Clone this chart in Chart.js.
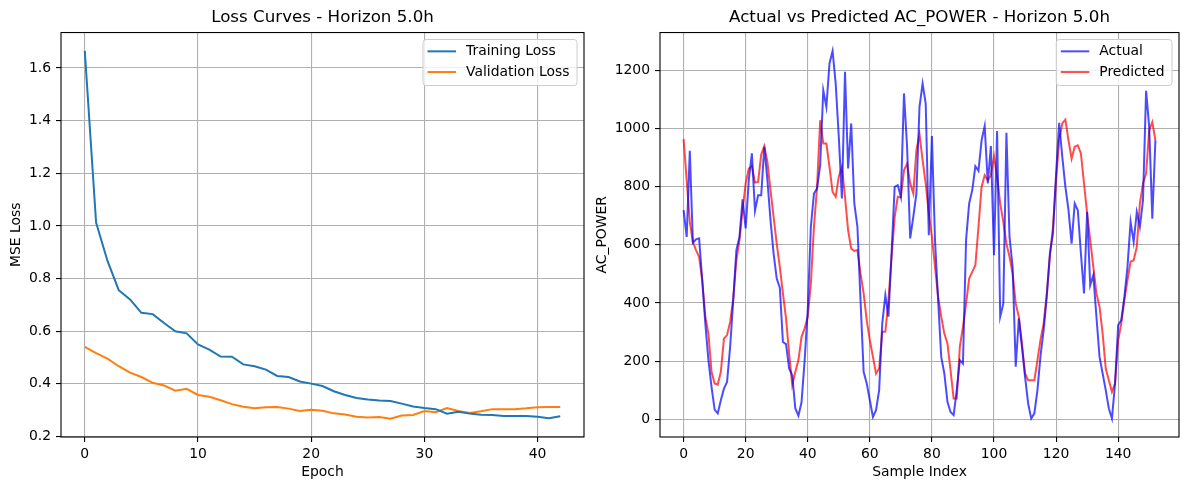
<!DOCTYPE html>
<html>
<head>
<meta charset="utf-8">
<title>Loss curves and AC_POWER prediction</title>
<script src="https://cdn.jsdelivr.net/npm/chart.js@4.4.1/dist/chart.umd.min.js"></script>
<style>
    body { margin: 0; background: #fff; }
    #wrap { position: relative; width: 1189px; height: 490px; }
    canvas { position: absolute; top: 0; }
</style>
</head>
<body>
<div id="wrap">
    <canvas id="loss-chart" width="592" height="490" style="left:0px"></canvas>
    <canvas id="power-chart" width="597" height="490" style="left:592px"></canvas>
</div>
<script>
// Loss per epoch
const trainLoss = [1.665, 1.013, 0.868, 0.756, 0.721, 0.670, 0.665, 0.631, 0.600, 0.592,
    0.550, 0.530, 0.504, 0.503, 0.474, 0.467, 0.454, 0.430, 0.426, 0.409,
    0.401, 0.392, 0.372, 0.358, 0.346, 0.341, 0.337, 0.335, 0.325, 0.314,
    0.308, 0.304, 0.287, 0.294, 0.287, 0.283, 0.282, 0.278, 0.278, 0.278,
    0.275, 0.269, 0.277];
const valLoss = [0.541, 0.517, 0.496, 0.467, 0.443, 0.426, 0.404, 0.394, 0.374, 0.381,
    0.358, 0.351, 0.338, 0.323, 0.313, 0.307, 0.311, 0.312, 0.306, 0.297,
    0.302, 0.298, 0.288, 0.284, 0.275, 0.272, 0.274, 0.268, 0.280, 0.282,
    0.297, 0.292, 0.308, 0.297, 0.289, 0.296, 0.304, 0.304, 0.304, 0.307,
    0.311, 0.312, 0.312];

// AC_POWER per sample index
const actualPower = [719, 627, 923, 607, 619, 622, 479, 330, 204, 112,
    34, 21, 66, 106, 129, 250, 410, 582, 627, 756,
    656, 822, 914, 717, 770, 770, 937, 822, 685, 570,
    484, 453, 266, 259, 175, 152, 38, 13, 60, 204,
    376, 662, 776, 793, 874, 1131, 1074, 1223, 1266, 1154,
    971, 759, 1194, 862, 1017, 742, 662, 410, 164, 124,
    66, 9, 32, 101, 330, 427, 353, 570, 799, 805,
    765, 1120, 937, 622, 696, 776, 1074, 1154, 1085, 633,
    974, 616, 410, 215, 158, 61, 26, 15, 101, 204,
    192, 616, 742, 788, 870, 854, 959, 1008, 811, 939,
    564, 991, 353, 398, 985, 627, 524, 181, 347, 250,
    147, 55, 3, 21, 101, 220, 307, 421, 570, 639,
    845, 1019, 902, 799, 719, 604, 742, 719, 570, 433,
    713, 461, 496, 353, 215, 158, 101, 38, 3, 124,
    324, 341, 421, 524, 679, 610, 713, 662, 753, 1129,
    1005, 690, 959];
const predictedPower = [963, 822, 679, 610, 582, 559, 479, 353, 295, 164,
    124, 120, 164, 278, 290, 335, 416, 547, 616, 719,
    811, 862, 870, 814, 816, 910, 939, 885, 788, 696,
    604, 524, 433, 347, 227, 118, 164, 204, 284, 313,
    353, 467, 662, 799, 1028, 948, 948, 868, 782, 765,
    834, 868, 765, 650, 587, 579, 582, 501, 433, 341,
    272, 215, 158, 175, 301, 301, 410, 559, 696, 765,
    763, 856, 879, 811, 776, 925, 980, 890, 811, 708,
    627, 524, 421, 353, 295, 261, 169, 72, 72, 250,
    318, 398, 484, 507, 530, 662, 799, 839, 822, 839,
    904, 834, 742, 679, 604, 559, 501, 398, 353, 261,
    158, 135, 135, 135, 204, 275, 330, 433, 559, 662,
    822, 959, 1017, 1030, 959, 896, 937, 942, 914, 811,
    708, 616, 524, 433, 387, 295, 175, 135, 95, 124,
    272, 330, 410, 479, 542, 547, 593, 742, 811, 845,
    994, 1022, 959];

// Tick labels
const epochTicks = [0, 10, 20, 30, 40];
const lossTicks = [0.2, 0.4, 0.6, 0.8, 1.0, 1.2, 1.4, 1.6];
const sampleTicks = [0, 20, 40, 60, 80, 100, 120, 140];
const powerTicks = [0, 200, 400, 600, 800, 1000, 1200];

Chart.defaults.font.family = "'DejaVu Sans', sans-serif";
Chart.defaults.color = '#000';

const FONT = 13.9;

// matplotlib-like frame (all four spines) and a boxed legend inside the axes
const frameAndLegend = {
    id: 'frameAndLegend',
    afterDatasetsDraw(chart) {
        const ctx = chart.ctx;
        const a = chart.chartArea;
        ctx.save();
        ctx.strokeStyle = '#000';
        ctx.lineWidth = 1.1;
        ctx.strokeRect(a.left, a.top, a.right - a.left, a.bottom - a.top);

        const sets = chart.data.datasets;
        ctx.font = FONT + "px 'DejaVu Sans'";
        const textW = Math.max(...sets.map(d => ctx.measureText(d.label).width));
        const w = textW + 50.5;
        const h = 46;
        const x = a.right - 7 - w;
        const y = a.top + 7;
        ctx.beginPath();
        ctx.roundRect(x, y, w, h, 3);
        ctx.fillStyle = 'rgba(255,255,255,0.8)';
        ctx.fill();
        ctx.strokeStyle = '#cccccc';
        ctx.lineWidth = 1;
        ctx.stroke();
        sets.forEach((d, i) => {
            const cy = y + 11.8 + i * 20.7;
            ctx.strokeStyle = d.borderColor;
            ctx.lineWidth = 2;
            ctx.beginPath();
            ctx.moveTo(x + 4.5, cy);
            ctx.lineTo(x + 33, cy);
            ctx.stroke();
            ctx.fillStyle = '#000';
            ctx.textAlign = 'left';
            ctx.textBaseline = 'middle';
            ctx.fillText(d.label, x + 43, cy);
        });
        ctx.restore();
    }
};

// padded axis limits like matplotlib's 5% margins
function padded(values) {
    const lo = Math.min(...values), hi = Math.max(...values);
    const m = (hi - lo) * 0.05;
    return { min: lo - m, max: hi + m };
}

function axis(opts) {
    return {
        type: 'linear',
        min: opts.min,
        max: opts.max,
        afterBuildTicks: s => { s.ticks = opts.ticks.map(v => ({ value: v })); },
        afterFit: opts.fit,
        grid: { color: '#b0b0b0', lineWidth: 1.1, tickColor: '#000', tickLength: 5, drawTicks: true },
        border: { display: false },
        ticks: {
            padding: opts.tickPad,
            autoSkip: false,
            maxRotation: 0,
            font: { size: FONT },
            color: '#000',
            callback: opts.format
        },
        title: {
            display: true,
            text: opts.title,
            color: '#000',
            font: { size: FONT },
            padding: opts.titlePad
        }
    };
}

function makeChart(canvasId, cfg) {
    const ctx = document.getElementById(canvasId).getContext('2d');
    return new Chart(ctx, {
        type: 'line',
        data: { datasets: cfg.datasets },
        options: {
            responsive: false,
            animation: false,
            layout: { padding: { left: 0, right: cfg.padRight, top: 0, bottom: 0 } },
            elements: { point: { radius: 0 }, line: { tension: 0 } },
            scales: { x: cfg.x, y: cfg.y },
            plugins: {
                legend: { display: false },
                tooltip: { enabled: false },
                title: {
                    display: true,
                    fullSize: false,
                    text: cfg.title,
                    color: '#000',
                    font: { size: 16.7, weight: 'normal' },
                    padding: { top: 8, bottom: 4.5 }
                }
            }
        },
        plugins: [frameAndLegend]
    });
}

function toPoints(values) {
    return values.map((v, i) => ({ x: i, y: v }));
}

// Left panel: loss curves
const lossX = padded([0, trainLoss.length - 1]);
const lossY = padded(trainLoss.concat(valLoss));
makeChart('loss-chart', {
    title: 'Loss Curves - Horizon 5.0h',
    padRight: 8,
    datasets: [
        { label: 'Training Loss', data: toPoints(trainLoss), borderColor: '#1f77b4', borderWidth: 2, fill: false },
        { label: 'Validation Loss', data: toPoints(valLoss), borderColor: '#ff7f0e', borderWidth: 2, fill: false }
    ],
    x: axis({ min: lossX.min, max: lossX.max, ticks: epochTicks, title: 'Epoch',
        fit: s => { s.height = 53; }, tickPad: 4, titlePad: { top: 0, bottom: 9.7 },
        format: v => String(v) }),
    y: axis({ min: lossY.min, max: lossY.max, ticks: lossTicks, title: 'MSE Loss',
        fit: s => { s.width = 61; }, tickPad: 5, titlePad: { top: 8.5, bottom: 0 },
        format: v => v.toFixed(1) })
});

// Right panel: actual vs predicted
const powerX = padded([0, actualPower.length - 1]);
const powerY = padded(actualPower.concat(predictedPower));
makeChart('power-chart', {
    title: 'Actual vs Predicted AC_POWER - Horizon 5.0h',
    padRight: 10,
    datasets: [
        { label: 'Actual', data: toPoints(actualPower), borderColor: 'rgba(0,0,255,0.7)', borderWidth: 2, fill: false },
        { label: 'Predicted', data: toPoints(predictedPower), borderColor: 'rgba(255,0,0,0.7)', borderWidth: 2, fill: false }
    ],
    x: axis({ min: powerX.min, max: powerX.max, ticks: sampleTicks, title: 'Sample Index',
        fit: s => { s.height = 53; }, tickPad: 4, titlePad: { top: 0, bottom: 9.7 },
        format: v => String(v) }),
    y: axis({ min: powerY.min, max: powerY.max, ticks: powerTicks, title: 'AC_POWER',
        fit: s => { s.width = 68; }, tickPad: 5, titlePad: { top: 1.7, bottom: 0 },
        format: v => String(v) })
});
</script>
</body>
</html>
